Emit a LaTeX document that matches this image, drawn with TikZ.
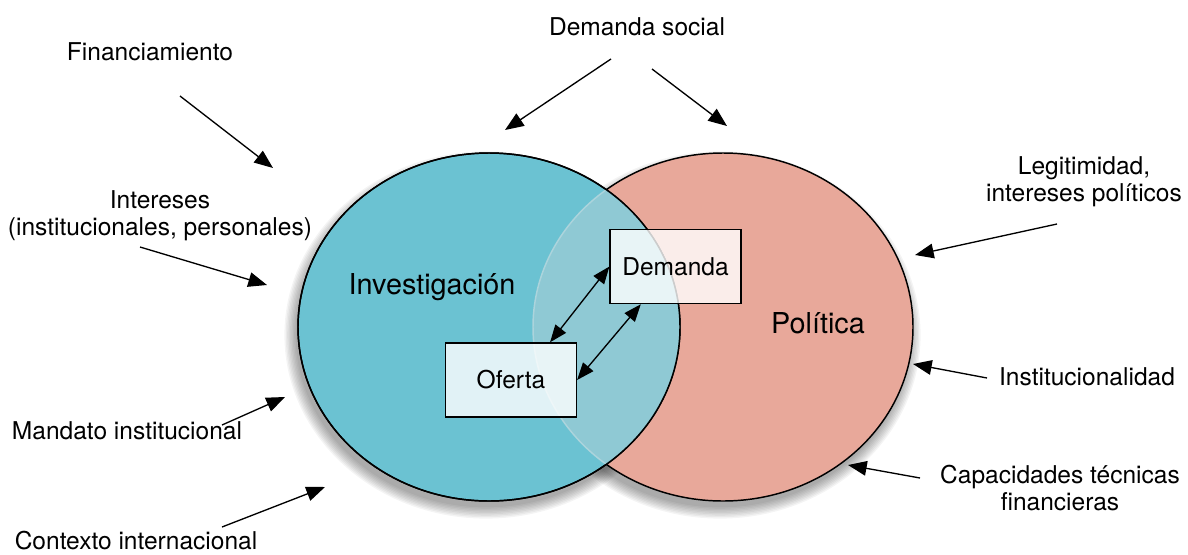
\documentclass[tikz,border=0pt]{standalone}
\usepackage{fontspec}
\setmainfont{TeX Gyre Heros}
\usepackage{xcolor}
\usetikzlibrary{arrows.meta}

\definecolor{invblue}{RGB}{107,194,210}
\definecolor{polpink}{RGB}{232,168,154}
\definecolor{cruce}{RGB}{143,201,212}
\definecolor{cruceedge}{RGB}{172,212,220}

\tikzset{
  lbl/.style={inner sep=0.75pt, align=center, font=\fontsize{18.4}{20.5}\selectfont},
  big/.style={inner sep=0.75pt, font=\fontsize{21.6}{26}\selectfont},
  caja/.style={draw, line width=1.1pt, fill=white, fill opacity=0.8, text opacity=1,
    minimum width=98pt, minimum height=55.5pt, inner sep=0pt, font=\fontsize{18.4}{22}\selectfont},
  flecha/.style={line width=1pt, -{Triangle[length=14pt,width=11pt]}},
  doble/.style={line width=1pt, {Triangle[length=13pt,width=10pt]}-{Triangle[length=13pt,width=10pt]}},
}

\begin{document}
\begin{tikzpicture}[x=0.75pt,y=0.75pt,yscale=-1,xscale=1]
\useasboundingbox (0,0) rectangle (1188,554);
%Shadows
\foreach \i in {1,...,9}{
  \fill [black, opacity=0.045] (486,335) ellipse [x radius={189+1.4*\i}, y radius={171+1.4*\i}];
  \fill [black, opacity=0.045] (720,335) ellipse [x radius={188+1.4*\i}, y radius={171+1.4*\i}];
}
%Ellipse Politica
\draw [line width=1.1pt, fill=polpink] (723,327) ellipse [x radius=190, y radius=174];
%Ellipse Investigacion
\draw [line width=1.1pt, fill=invblue] (489,327) ellipse [x radius=191, y radius=174];
%Overlap
\begin{scope}
  \clip (489,327) ellipse [x radius=191, y radius=174];
  \fill [cruce] (723,327) ellipse [x radius=190, y radius=174];
  \draw [line width=1.1pt, cruceedge] (723,327) ellipse [x radius=190, y radius=174];
\end{scope}
\draw [line width=1.1pt] (489,327) ellipse [x radius=191, y radius=174];

% Text Node
\node [big] (inv) at (432,287) {Investigación};
% Text Node
\node [big] (pol) at (818,323) {Política};

% Boxes
\node [caja] (demanda) at (675.5,266.5) {Demanda};
\node [caja] (oferta) at (511,380) {Oferta};
\draw [doble] ([xshift=-20.25pt]oferta.north east) -- (demanda.west);
\draw [doble] (oferta.east) -- ([xshift=-26pt]demanda.south);

% Text Node
\node [lbl] (fin) at (150,52) {Financiamiento};
\node [lbl] (dsoc) at (637,27) {Demanda social};
\node [lbl] (inter) at (160,216) {Intereses\\(institucionales, personales)};
\node [lbl] (mand) at (127,431) {Mandato institucional};
\node [lbl] (cont) at (136,541) {Contexto internacional};
\node [lbl] (legit) at (1084,182) {Legitimidad,\\intereses políticos};
\node [lbl] (inst) at (1087,377) {Institucionalidad};
\node [lbl] (capac) at (1060,488) {Capacidades técnicas\\financieras};

% Arrow ends
\coordinate (fin-a) at (180,96);     \coordinate (fin-b) at (273,168);
\coordinate (dsoc-a) at (611,59);    \coordinate (dsoc-b) at (505,130);
\coordinate (dsoc-c) at (652,69);    \coordinate (dsoc-d) at (727,126);
\coordinate (inter-a) at (140,247);  \coordinate (inter-b) at (267,285);
\coordinate (mand-a) at (222,425);   \coordinate (mand-b) at (285,397);
\coordinate (cont-a) at (222,527);   \coordinate (cont-b) at (325,487);
\coordinate (legit-a) at (1057,224); \coordinate (legit-b) at (915,255);
\coordinate (inst-a) at (987,378);   \coordinate (inst-b) at (913,364);
\coordinate (capac-a) at (920,478);  \coordinate (capac-b) at (848,465);

%Straight Lines
\draw [flecha] (fin-a) -- (fin-b);
\draw [flecha] (dsoc-a) -- (dsoc-b);
\draw [flecha] (dsoc-c) -- (dsoc-d);
\draw [flecha] (inter-a) -- (inter-b);
\draw [flecha] (mand-a) -- (mand-b);
\draw [flecha] (cont-a) -- (cont-b);
\draw [flecha] (legit-a) -- (legit-b);
\draw [flecha] (inst-a) -- (inst-b);
\draw [flecha] (capac-a) -- (capac-b);
\end{tikzpicture}
\end{document}
